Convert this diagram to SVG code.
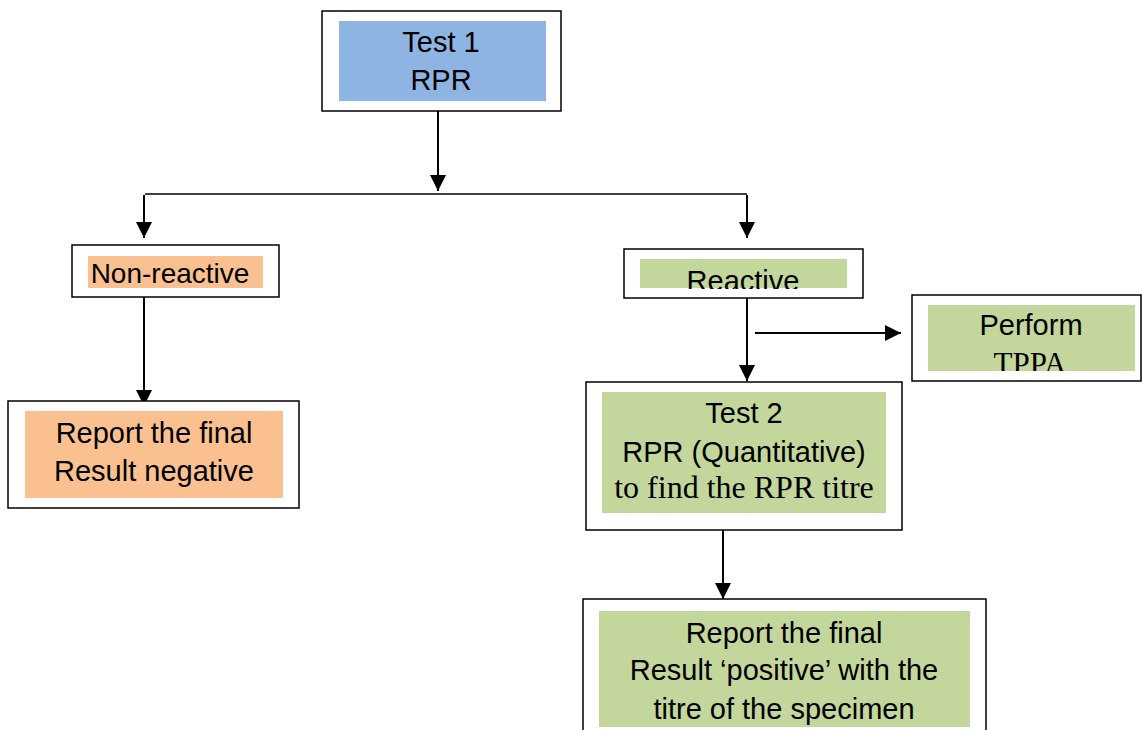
<svg xmlns="http://www.w3.org/2000/svg" width="1142" height="730" viewBox="0 0 1142 730">
  <style>
    .frame { fill: #ffffff; stroke: #000000; stroke-width: 1.5; }
    .blue { fill: #8EB4E3; }
    .orange { fill: #FAC090; }
    .green { fill: #C3D69B; }
    .sans { font-family: "Liberation Sans", Arial, sans-serif; font-size: 29px; fill: #000000; text-anchor: middle; }
    .serif { font-family: "Liberation Serif", "Times New Roman", serif; font-size: 32px; fill: #000000; text-anchor: middle; }
    .wire { stroke: #000000; stroke-width: 2; fill: none; }
    .bus { stroke: #000000; stroke-width: 1.5; fill: none; }
  </style>
  <defs>
    <marker id="arrow" viewBox="0 0 10 10" refX="10" refY="5" markerWidth="8" markerHeight="8" markerUnits="strokeWidth" orient="auto">
      <path d="M0,0 L10,5 L0,10 Z" fill="#000000"/>
    </marker>
    <clipPath id="clipReactive"><rect x="600" y="240" width="300" height="49"/></clipPath>
    <clipPath id="clipTppa"><rect x="900" y="290" width="242" height="81"/></clipPath>
  </defs>

  <rect x="0" y="0" width="1142" height="730" fill="#ffffff"/>

  <!-- connectors -->
  <g id="connectors">
    <line class="wire" x1="438" y1="111" x2="438" y2="191" marker-end="url(#arrow)"/>
    <line class="bus" x1="145" y1="194" x2="747" y2="194"/>
    <line class="wire" x1="144" y1="195" x2="144" y2="238" marker-end="url(#arrow)"/>
    <line class="wire" x1="747" y1="195" x2="747" y2="238" marker-end="url(#arrow)"/>
    <line class="wire" x1="144" y1="297" x2="144" y2="406" marker-end="url(#arrow)"/>
    <line class="wire" x1="747" y1="298" x2="747" y2="381" marker-end="url(#arrow)"/>
    <line class="wire" x1="755" y1="333" x2="901" y2="333" marker-end="url(#arrow)"/>
    <line class="wire" x1="723" y1="530" x2="723" y2="599" marker-end="url(#arrow)"/>
  </g>

  <!-- Test 1 -->
  <g id="test1">
    <rect class="frame" x="322" y="11" width="239" height="100"/>
    <rect class="blue" x="339" y="21" width="207" height="80"/>
    <text class="sans" x="441" y="52">Test 1</text>
    <text class="sans" x="441" y="90">RPR</text>
  </g>

  <!-- Non-reactive -->
  <g id="nonreactive">
    <rect class="frame" x="72" y="245" width="207" height="52"/>
    <rect class="orange" x="88" y="256" width="175" height="32"/>
    <text class="sans" x="170" y="283" style="font-size:28px">Non-reactive</text>
  </g>

  <!-- Reactive -->
  <g id="reactive">
    <rect class="frame" x="624" y="249" width="239" height="49"/>
    <rect class="green" x="640" y="259" width="207" height="29"/>
    <text class="sans" x="743" y="291" clip-path="url(#clipReactive)">Reactive</text>
  </g>

  <!-- Perform TPPA -->
  <g id="tppa">
    <rect class="frame" x="912" y="295" width="229" height="86"/>
    <rect class="green" x="928" y="305" width="207" height="66"/>
    <text class="sans" x="1031" y="335">Perform</text>
    <text class="serif" x="1030" y="374" style="font-size:31px" clip-path="url(#clipTppa)">TPPA</text>
  </g>

  <!-- Report negative -->
  <g id="negative">
    <rect class="frame" x="8" y="401" width="291" height="107"/>
    <rect class="orange" x="25" y="411" width="258" height="87"/>
    <text class="sans" x="154" y="443">Report the final</text>
    <text class="sans" x="154" y="481">Result negative</text>
  </g>

  <!-- Test 2 -->
  <g id="test2">
    <rect class="frame" x="586" y="382" width="316" height="148"/>
    <rect class="green" x="602" y="392" width="284" height="121"/>
    <text class="sans" x="744" y="423">Test 2</text>
    <text class="sans" x="744" y="462">RPR (Quantitative)</text>
    <text class="serif" x="744" y="498">to find the RPR titre</text>
  </g>

  <!-- Report positive -->
  <g id="positive">
    <rect class="frame" x="583" y="599" width="403" height="140"/>
    <rect class="green" x="599" y="611" width="371" height="116"/>
    <text class="sans" x="784" y="643">Report the final</text>
    <text class="sans" x="784" y="680">Result ‘positive’ with the</text>
    <text class="sans" x="784" y="719">titre of the specimen</text>
  </g>
</svg>
